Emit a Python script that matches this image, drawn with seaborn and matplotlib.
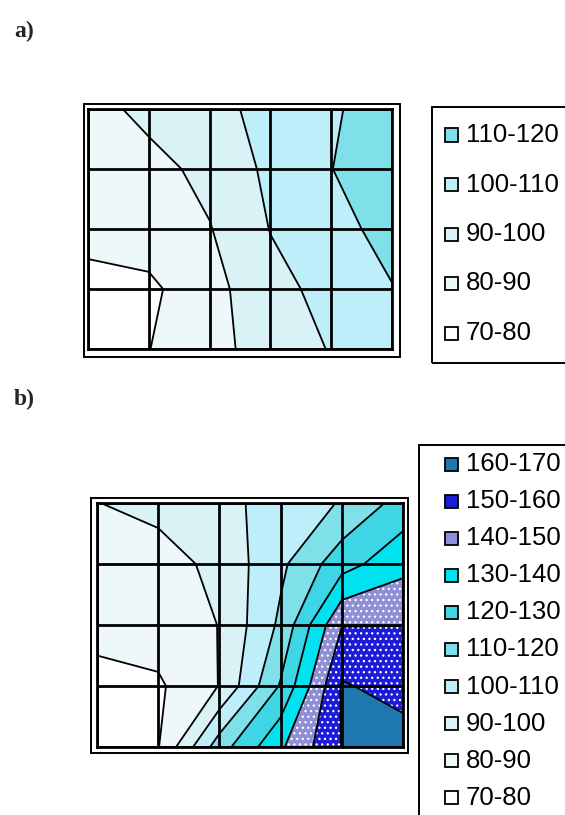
import numpy as np
import matplotlib
matplotlib.use("Agg")
import matplotlib.pyplot as plt
from matplotlib.patches import Rectangle
import seaborn as sns

# Surface grid: 6 columns x 5 rows of nodes, row 0 is the top edge
cols = [0, 1, 2, 3, 4, 5]
rows = [0, 1, 2, 3, 4]

surface_a = [
    [86.0, 93.0, 97.0, 103.0, 109.0, 114.0],
    [84.0, 86.5, 93.0, 102.0, 109.8, 117.0],
    [82.0, 85.0, 89.5, 100.3, 105.0, 115.0],
    [78.0, 78.0, 86.5, 97.0, 103.0, 109.4],
    [74.0, 79.8, 87.0, 94.0, 100.6, 106.0],
]

surface_b = [
    [89.8, 93.0, 97.0, 104.0, 110.7, 124.0],
    [85.0, 85.7, 92.7, 107.9, 126.0, 137.0],
    [83.0, 85.0, 90.2, 112.0, 149.7, 149.9],
    [77.0, 78.5, 90.3, 121.0, 161.0, 156.0],
    [74.0, 79.5, 115.5, 138.5, 160.3, 165.0],
]

levels_a = [70, 80, 90, 100, 110, 120]
levels_b = [70, 80, 90, 100, 110, 120, 130, 140, 150, 160, 170]

# fill colour of each band, keyed by its lower bound
band_hex = {
    70: "#ffffff",
    80: "#eef8fa",
    90: "#d9f2f6",
    100: "#bdeefa",
    110: "#80e0e9",
    120: "#3ed5e5",
    130: "#00e2ef",
    140: "#8e8fd6",
    150: "#1c1cd6",
    160: "#1f77b0",
}
dotted_bands = [140, 150]

W, H = 565, 815
sns.set_theme(style="white")
plt.rcParams["font.family"] = ["Liberation Sans", "DejaVu Sans"]

fig = plt.figure(figsize=(W / 100, H / 100), dpi=100)
fig.patch.set_facecolor("white")


def px_rect(x0, y0, x1, y1):
    return [x0 / W, 1 - y1 / H, (x1 - x0) / W, (y1 - y0) / H]


def frame(x0, y0, x1, y1, lw=1.4):
    fig.patches.append(Rectangle((x0 / W, 1 - y1 / H), (x1 - x0) / W, (y1 - y0) / H,
                                 transform=fig.transFigure, fill=False,
                                 edgecolor="black", linewidth=lw, zorder=5))


def surface_panel(box, outer, values, levels):
    ax = fig.add_axes(px_rect(*box))
    z = np.array(values)
    palette = sns.color_palette([band_hex[v] for v in levels[:-1]])
    ax.contourf(cols, rows, z, levels=levels, colors=palette)
    dot_levels = [v for v in levels[:-1] if v in dotted_bands]
    if dot_levels:
        lo, hi = dot_levels[0], dot_levels[-1] + 10
        with plt.rc_context({"hatch.color": "white", "hatch.linewidth": 0.9}):
            ax.contourf(cols, rows, z, levels=[lo, hi], colors="none", hatches=["..."])
    ax.contour(cols, rows, z, levels=levels[1:-1], colors="black", linewidths=1.3)
    ax.set_xlim(cols[0], cols[-1])
    ax.set_ylim(rows[-1], rows[0])
    ax.set_xticks(cols)
    ax.set_yticks(rows)
    ax.tick_params(length=0, labelbottom=False, labelleft=False)
    ax.set_axisbelow(False)
    ax.grid(True, color="black", linewidth=2.0)
    for s in ax.spines.values():
        s.set_visible(True)
        s.set_color("black")
        s.set_linewidth(2.0)
    frame(*outer)
    return ax


def legend_box(box, levels, y_first, step):
    x0, y0, x1, y1 = box
    frame(x0, y0, x1, y1, lw=1.4)
    bands = levels[:-1][::-1]
    for i, lo in enumerate(bands):
        yc = y_first + i * step
        fig.patches.append(Rectangle((445 / W, 1 - (yc + 6.5) / H), 13 / W, 13 / H,
                                     transform=fig.transFigure, facecolor=band_hex[lo],
                                     edgecolor="black", linewidth=1.3, zorder=6))
        fig.text(466 / W, 1 - yc / H, f"{lo}-{lo + 10}", fontsize=18.5,
                 ha="left", va="center", color="black")


surface_panel((88, 109, 392, 349), (83.5, 104, 400, 357), surface_a, levels_a)
surface_panel((97, 503, 403, 747), (91, 498, 408, 753), surface_b, levels_b)

legend_box((432, 107, 575, 363), levels_a, 135, 49.5)
legend_box((419, 445, 575, 830), levels_b, 464, 37.1)

fig.text(14 / W, 1 - 31 / H, "a)", fontsize=17, fontweight="bold",
         family=["Liberation Serif", "DejaVu Serif"], ha="left", va="center")
fig.text(14 / W, 1 - 399 / H, "b)", fontsize=17, fontweight="bold",
         family=["Liberation Serif", "DejaVu Serif"], ha="left", va="center")

fig.savefig("out.png", dpi=100, facecolor="white")
